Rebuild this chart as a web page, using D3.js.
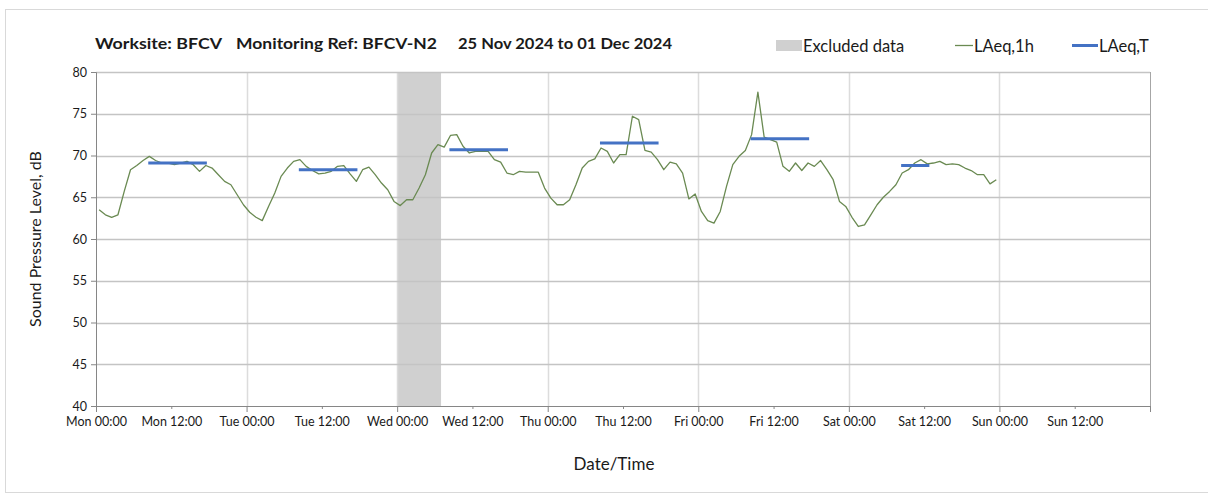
<!DOCTYPE html>
<html>
<head>
<meta charset="utf-8">
<script src="https://d3js.org/d3.v7.min.js"></script>
<style>
  body { margin: 0; background: #fff; }
  text { font-family: Lato, "Open Sans", sans-serif; fill: #1a1a1a; }
</style>
</head>
<body>
<script>
// hourly LAeq,1h values, Mon 25 Nov 2024 00:00 onwards
var laeq1h = [
  63.5, 62.9, 62.6, 62.9, 65.7, 68.3, 68.8, 69.4, 69.9, 69.4, 69.1, 69.1, 68.9, 69.1, 69.3, 68.9, 68.1, 68.8, 68.5, 67.7, 66.9, 66.5, 65.3, 64.1,
  63.2, 62.6, 62.2, 63.9, 65.5, 67.5, 68.5, 69.3, 69.5, 68.7, 68.2, 67.8, 67.9, 68.1, 68.7, 68.8, 67.8, 66.9, 68.3, 68.6, 67.7, 66.7, 65.9, 64.5,
  64.0, 64.7, 64.7, 66.1, 67.7, 70.3, 71.3, 71.0, 72.4, 72.5, 71.1, 70.3, 70.5, 70.5, 70.5, 69.5, 69.2, 67.9, 67.7, 68.1, 68.0, 68.0, 68.0, 66.1,
  64.9, 64.1, 64.1, 64.7, 66.5, 68.5, 69.3, 69.6, 70.9, 70.5, 69.1, 70.1, 70.1, 74.7, 74.3, 70.6, 70.4, 69.5, 68.3, 69.2, 69.0, 67.9, 64.8, 65.4,
  63.3, 62.2, 61.9, 63.3, 66.3, 68.9, 69.9, 70.6, 72.5, 77.6, 72.2, 71.9, 71.6, 68.7, 68.1, 69.1, 68.2, 69.1, 68.7, 69.4, 68.3, 67.1, 64.5, 63.9,
  62.6, 61.5, 61.7, 62.9, 64.1, 65.0, 65.7, 66.5, 67.9, 68.3, 69.1, 69.5, 69.0, 69.1, 69.3, 68.9, 69.0, 68.9, 68.5, 68.2, 67.7, 67.7, 66.6, 67.1
];

// LAeq,T periods (hours from Mon 00:00)
var periodStart = [8.33, 32.33, 56.33, 80.33, 104.33, 128.33];
var periodEnd   = [17.67, 41.67, 65.67, 89.67, 113.67, 132.83];
var periodValue = [69.1, 68.3, 70.7, 71.5, 72.0, 68.8];

// excluded data window (hours from Mon 00:00)
var excluded = [48, 55];

var yTicks = [40, 45, 50, 55, 60, 65, 70, 75, 80];

var width = 1208, height = 495;
var margin = { top: 72, right: 58, bottom: 89, left: 96 };
var plotW = width - margin.left - margin.right,
    plotH = height - margin.top - margin.bottom;

var t0 = new Date(2024, 10, 25, 0, 0);
function hrs(h) { return new Date(t0.getTime() + h * 3600 * 1000); }

var x = d3.scaleTime()
  .domain([t0, hrs(168)])
  .range([0, plotW]);

var y = d3.scaleLinear()
  .domain([40, 80])
  .range([plotH, 0]);

var svg = d3.select("body").append("svg")
  .attr("width", width)
  .attr("height", height);

// outer frame
svg.append("rect")
  .attr("x", 5.5).attr("y", 9.5)
  .attr("width", 1220).attr("height", 483)
  .attr("fill", "none")
  .attr("stroke", "#d9d9d9");

var g = svg.append("g")
  .attr("transform", "translate(" + margin.left + "," + margin.top + ")");

// excluded shading
g.append("rect")
  .attr("x", x(hrs(excluded[0])))
  .attr("y", 0)
  .attr("width", x(hrs(excluded[1])) - x(hrs(excluded[0])))
  .attr("height", plotH)
  .attr("fill", "#d0d0d0");

// vertical gridlines (daily)
var days = d3.range(1, 7).map(function(d) { return hrs(d * 24); });
g.selectAll("line.vgrid")
  .data(days)
  .enter().append("line")
  .attr("class", "vgrid")
  .attr("x1", function(d) { return Math.round(x(d)) + 0.5; })
  .attr("x2", function(d) { return Math.round(x(d)) + 0.5; })
  .attr("y1", 0).attr("y2", plotH)
  .attr("stroke", "#dcdcdc")
  .attr("stroke-width", 1.5);

// horizontal gridlines
g.selectAll("line.hgrid")
  .data(yTicks.slice(1))
  .enter().append("line")
  .attr("class", "hgrid")
  .attr("x1", 0).attr("x2", plotW)
  .attr("y1", function(d) { return Math.round(y(d)) + 0.5; })
  .attr("y2", function(d) { return Math.round(y(d)) + 0.5; })
  .attr("stroke", "#c4c4c4")
  .attr("stroke-width", 1.3);

// right edge
g.append("line")
  .attr("x1", plotW + 0.5).attr("x2", plotW + 0.5)
  .attr("y1", 0).attr("y2", plotH)
  .attr("stroke", "#a6a6a6");

// y axis
var yAxis = g.append("g")
  .call(d3.axisLeft(y).tickValues(yTicks).tickSize(5).tickPadding(4));
yAxis.select(".domain").attr("stroke", "#868686");
yAxis.selectAll(".tick line").attr("stroke", "#868686");
yAxis.selectAll("text")
  .style("font-size", "12.5px")
  .attr("fill", "#222");

// x axis
var xTickVals = d3.range(0, 169, 12).map(hrs);
var fmt = d3.timeFormat("%a %H:%M");
var xAxis = g.append("g")
  .attr("transform", "translate(0," + plotH + ")")
  .call(d3.axisBottom(x)
    .tickValues(xTickVals)
    .tickSize(6)
    .tickPadding(5)
    .tickFormat(function(d, i) { return i === xTickVals.length - 1 ? "" : fmt(d); }));
xAxis.select(".domain").attr("stroke", "#868686");
xAxis.selectAll(".tick line")
  .attr("stroke", "#868686")
  .attr("y2", function(d, i) { return i % 2 ? 3 : 6; });
xAxis.selectAll("text")
  .style("font-size", "12.5px")
  .attr("fill", "#222");

// LAeq,1h line
var line = d3.line()
  .x(function(d, i) { return x(hrs(i + 0.5)); })
  .y(function(d) { return y(d); });

g.append("path")
  .datum(laeq1h)
  .attr("d", line)
  .attr("fill", "none")
  .attr("stroke", "#6a8a52")
  .attr("stroke-width", 1.3)
  .attr("stroke-linejoin", "round");

// LAeq,T segments
g.selectAll("line.period")
  .data(periodValue)
  .enter().append("line")
  .attr("class", "period")
  .attr("x1", function(d, i) { return x(hrs(periodStart[i])); })
  .attr("x2", function(d, i) { return x(hrs(periodEnd[i])); })
  .attr("y1", function(d) { return y(d); })
  .attr("y2", function(d) { return y(d); })
  .attr("stroke", "#4472c4")
  .attr("stroke-width", 3);

// title (pieces placed and stretched to the original widths)
var title = [
  { text: "Worksite: BFCV", x: 95, w: 127 },
  { text: "Monitoring Ref: BFCV-N2", x: 236, w: 201 },
  { text: "25 Nov 2024 to 01 Dec 2024", x: 458, w: 214 }
];
svg.selectAll("text.title")
  .data(title)
  .enter().append("text")
  .attr("class", "title")
  .attr("x", function(d) { return d.x; })
  .attr("y", 49)
  .attr("textLength", function(d) { return d.w; })
  .attr("lengthAdjust", "spacingAndGlyphs")
  .style("font-size", "16px")
  .style("font-weight", "bold")
  .text(function(d) { return d.text; });

// legend
svg.append("rect")
  .attr("x", 776).attr("y", 40)
  .attr("width", 26).attr("height", 11)
  .attr("fill", "#d0d0d0");
svg.append("text").attr("x", 803).attr("y", 51.5)
  .style("font-size", "16.5px").text("Excluded data");

svg.append("line")
  .attr("x1", 955).attr("x2", 973).attr("y1", 45.5).attr("y2", 45.5)
  .attr("stroke", "#6a8a52").attr("stroke-width", 1.3);
svg.append("text").attr("x", 974).attr("y", 51.5)
  .style("font-size", "16.5px").text("LAeq,1h");

svg.append("line")
  .attr("x1", 1072).attr("x2", 1098).attr("y1", 45.5).attr("y2", 45.5)
  .attr("stroke", "#4472c4").attr("stroke-width", 3);
svg.append("text").attr("x", 1099).attr("y", 51.5)
  .style("font-size", "16.5px").text("LAeq,T");

// axis titles
svg.append("text")
  .attr("transform", "translate(41," + (margin.top + plotH / 2) + ") rotate(-90)")
  .attr("text-anchor", "middle")
  .style("font-size", "16px")
  .text("Sound Pressure Level, dB");

svg.append("text")
  .attr("x", 614).attr("y", 470)
  .attr("text-anchor", "middle")
  .style("font-size", "17px")
  .text("Date/Time");
</script>
</body>
</html>
